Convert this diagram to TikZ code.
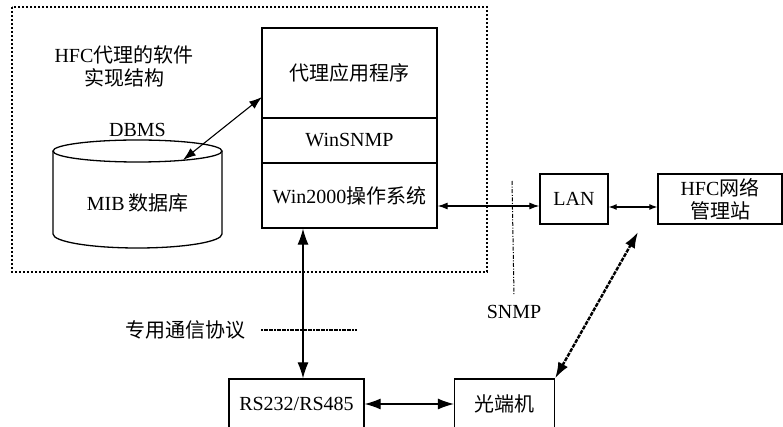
\documentclass[tikz,border=0pt]{standalone}
\usepackage{fontspec}
\setmainfont{Liberation Serif}
\newfontfamily\cjk{Noto Sans CJK SC}
\usetikzlibrary{arrows.meta}
\newcommand{\zh}[1]{{\cjk #1}}

\begin{document}
\begin{tikzpicture}[x=0.5pt,y=-0.5pt,font=\fontsize{10}{11.5}\selectfont,
  box/.style={draw,rectangle,line width=0.65pt,inner sep=0pt},
  link/.style={<->,>={Latex[length=6.5pt,width=4.5pt]},line width=0.55pt}]
\useasboundingbox (0,0) rectangle (783,427);
\clip (0,0) rectangle (783,427);

% agent software, dashed frame
\draw[dash pattern=on 1.2pt off 0.8pt,line width=0.55pt] (12,7) rectangle (487,272);
\node[align=center] (title) at (124,66) {HFC\zh{代理的软件}\\\zh{实现结构}};

% protocol stack
\node[box,minimum width=87.5pt,minimum height=45pt] (app) at (349.5,73) {\zh{代理应用程序}};
\node[box,minimum width=87.5pt,minimum height=22.5pt] (wsnmp) at (349.5,140.5) {WinSNMP};
\node[box,minimum width=87.5pt,minimum height=32.5pt] (os) at (349.5,195.5) {Win2000\zh{操作系统}};

% MIB database
\draw[line width=0.65pt] (137.5,151) ellipse [x radius=42.25pt,y radius=5.5pt];
\draw[line width=0.65pt] (53,151) -- (53,234) arc[start angle=180,end angle=360,x radius=42.25pt,y radius=7pt] -- (222,151);
\node (dbms) at (137.5,130) {DBMS};
\node (mib) at (137.5,203) {MIB\,\zh{数据库}};
\coordinate (dbtop) at (183,160);
\coordinate (appin) at (262,97);

% network side
\node[box,minimum width=34pt,minimum height=25pt] (lan) at (574,199) {LAN};
\node[box,minimum width=62pt,minimum height=25pt,align=center] (nms) at (720,199) {HFC\zh{网络}\\\zh{管理站}};
\node[box,minimum width=67.5pt,minimum height=25pt] (rs) at (296.5,404) {RS232/RS485};
\node[box,minimum width=50pt,minimum height=25pt] (oe) at (504.5,404) {\zh{光端机}};

\node (snmp) at (514,312) {SNMP};
\node (proto) at (186,330) {\zh{专用通信协议}};

\coordinate (h206) at (0,206);
\coordinate (h207) at (0,207);
\coordinate (v303) at (303,0);
\coordinate (nmsin) at (638,232);

% connectors
\draw[link] (dbtop) -- (appin);
\draw[link,>={Latex[length=5pt,width=3.5pt]}] (os.east |- h206) -- (lan.west |- h206);
\draw[link,>={Latex[length=4pt,width=3pt]}] (lan.east |- h207) -- (nms.west |- h207);
\draw[link,>={Latex[length=8pt,width=5.5pt]}] (os.south -| v303) -- (rs.north -| v303);
\draw[link,>={Latex[length=8pt,width=5.5pt]}] (rs) -- (oe);
\draw[<->,>={Latex[length=8pt,width=5.5pt]},line width=1.2pt,dash pattern=on 2pt off 0.6pt] (oe.north east) -- (nmsin);

% protocol boundaries
\draw[dash pattern=on 2pt off 0.8pt on 0.5pt off 0.8pt,line width=0.5pt] (512,181) -- (snmp.north |- 0,295);
\draw[dash pattern=on 1pt off 0.3pt,line width=0.9pt] (proto.east) ++(8,0) -- (357,330);
\end{tikzpicture}
\end{document}
